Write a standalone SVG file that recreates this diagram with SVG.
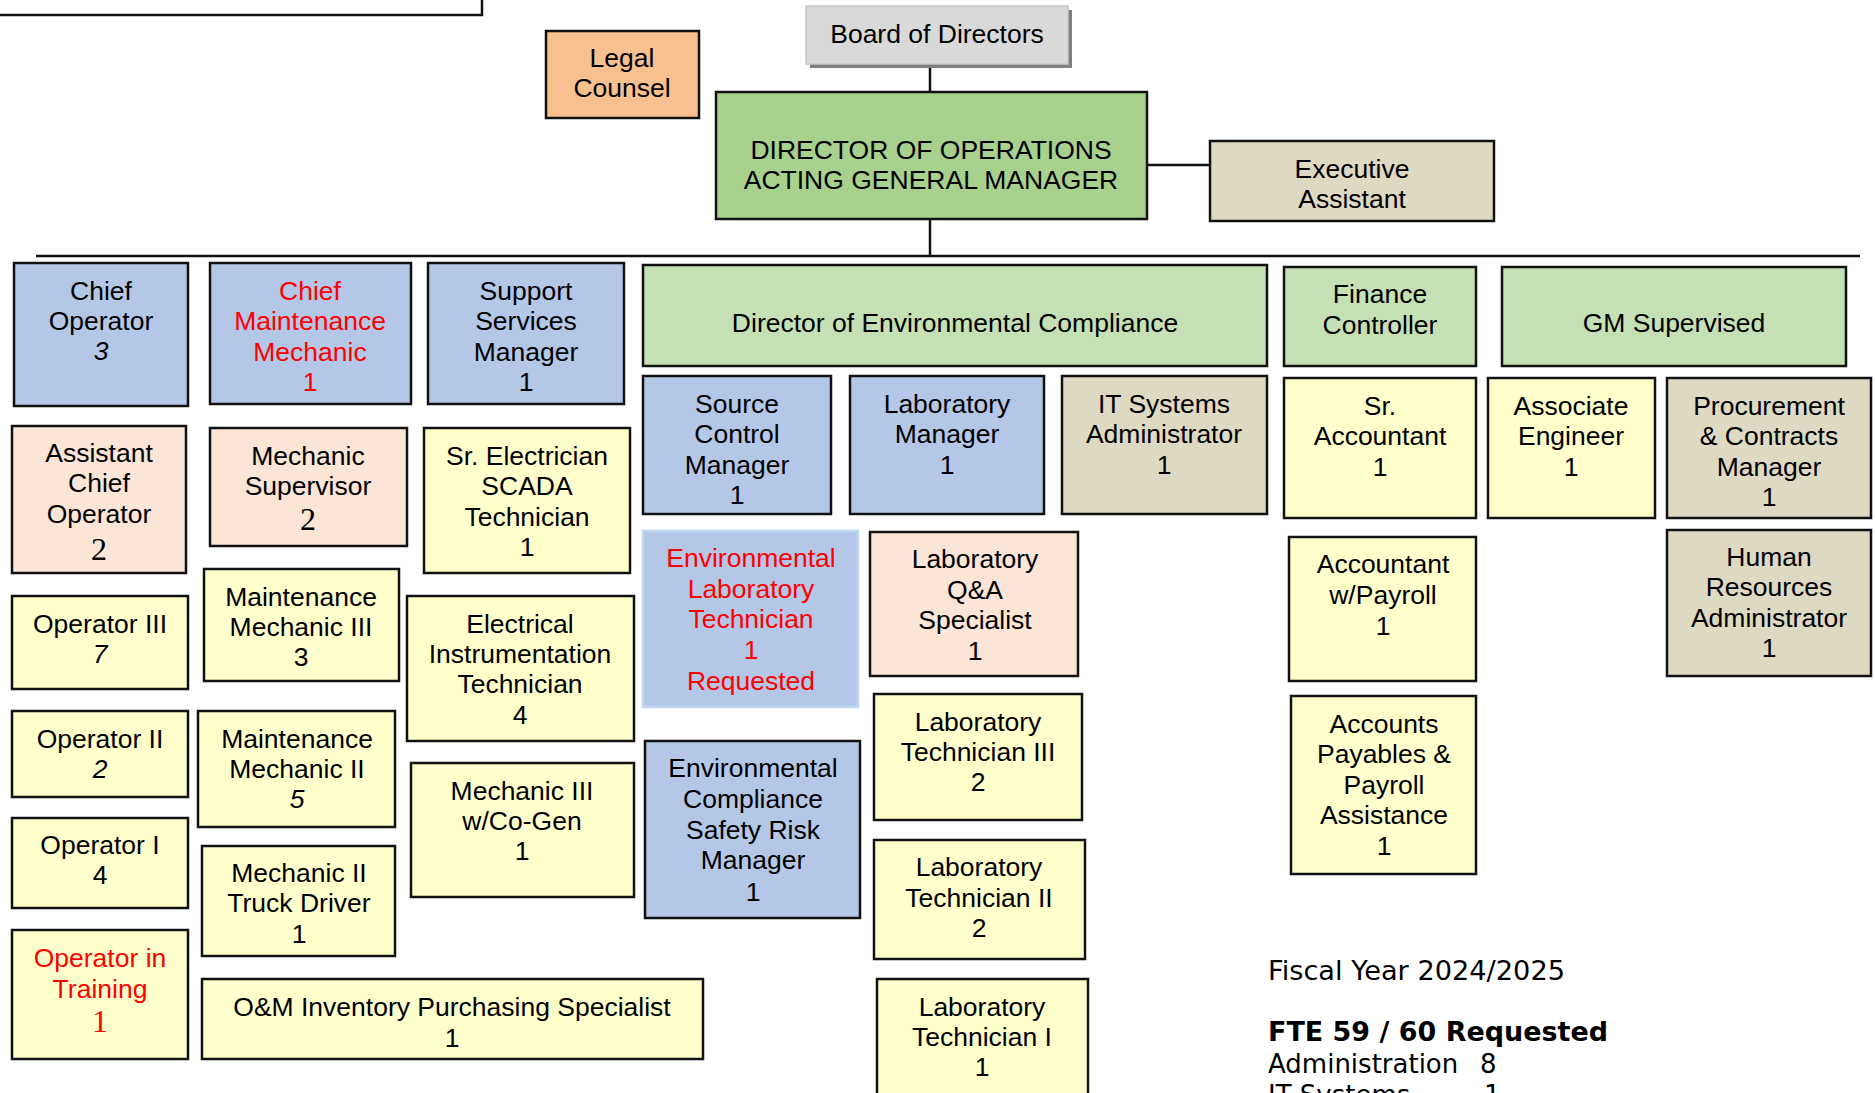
<svg xmlns="http://www.w3.org/2000/svg" width="1875" height="1093" viewBox="0 0 1875 1093">
<style>
.t{font-family:"Liberation Sans",Arial,sans-serif;font-size:26.5px;text-anchor:middle;fill:#000}
.r{fill:#ff0000}
.i{font-style:italic}
.s{font-family:"Liberation Serif","Times New Roman",serif;font-size:32px}
.bx{stroke:#111;stroke-width:2.5}
.blue{fill:#B4C7E7}
.peach{fill:#FBE5D6}
.yel{fill:#FFFFCC}
.tan{fill:#DDD9C3}
.lg{fill:#C5E0B4}
.dg{fill:#A9D18E}
.legal{fill:#F9C08F}
.ln{stroke:#111;stroke-width:2.5;fill:none}
.note{font-family:"DejaVu Sans",Verdana,sans-serif;font-size:26px;fill:#000}
</style>
<rect width="1875" height="1093" fill="#fff"/>
<path class="ln" d="M0,15 H482 V0"/>
<g id="connectors">
<line class="ln" x1="930" y1="65" x2="930" y2="92"/>
<line class="ln" x1="1147" y1="165" x2="1210" y2="165"/>
<line class="ln" x1="930" y1="219" x2="930" y2="256"/>
<line class="ln" x1="36" y1="256" x2="1860" y2="256"/>
</g>
<g id="legal"><rect class="bx legal" x="546" y="31" width="153" height="87"/><text class="t" x="622" y="67">Legal</text><text class="t" x="622" y="97">Counsel</text></g>
<g id="board"><rect x="810" y="10" width="262" height="58" fill="#7f7f7f"/><rect x="806" y="6" width="262" height="58" fill="#D9D9D9" stroke="#c8c8c8" stroke-width="1.5"/><text class="t" x="937" y="43">Board of Directors</text></g>
<g id="director-ops"><rect class="bx dg" x="716" y="92" width="431" height="127"/><text class="t" x="931" y="159">DIRECTOR OF OPERATIONS</text><text class="t" x="931" y="189">ACTING GENERAL MANAGER</text></g>
<g id="exec-assistant"><rect class="bx tan" x="1210" y="141" width="284" height="80"/><text class="t" x="1352" y="178">Executive</text><text class="t" x="1352" y="208">Assistant</text></g>
<g id="chief-operator"><rect class="bx blue" x="14" y="263" width="174" height="143"/><text class="t" x="101" y="300">Chief</text><text class="t" x="101" y="330">Operator</text><text class="t i" x="101" y="360">3</text></g>
<g id="chief-maint"><rect class="bx blue" x="210" y="263" width="201" height="141"/><text class="t r" x="310" y="300">Chief</text><text class="t r" x="310" y="330">Maintenance</text><text class="t r" x="310" y="361">Mechanic</text><text class="t r" x="310" y="391">1</text></g>
<g id="support-services"><rect class="bx blue" x="428" y="263" width="196" height="141"/><text class="t" x="526" y="300">Support</text><text class="t" x="526" y="330">Services</text><text class="t" x="526" y="361">Manager</text><text class="t" x="526" y="391">1</text></g>
<g id="director-env"><rect class="bx lg" x="643" y="265" width="624" height="101"/><text class="t" x="955" y="332">Director of Environmental Compliance</text></g>
<g id="finance-controller"><rect class="bx lg" x="1284" y="267" width="192" height="99"/><text class="t" x="1380" y="303">Finance</text><text class="t" x="1380" y="334">Controller</text></g>
<g id="gm-supervised"><rect class="bx lg" x="1502" y="267" width="344" height="99"/><text class="t" x="1674" y="332">GM Supervised</text></g>
<g id="asst-chief-op"><rect class="bx peach" x="12" y="426" width="174" height="147"/><text class="t" x="99" y="462">Assistant</text><text class="t" x="99" y="492">Chief</text><text class="t" x="99" y="523">Operator</text><text class="t s" x="99" y="560">2</text></g>
<g id="mech-supervisor"><rect class="bx peach" x="210" y="428" width="197" height="118"/><text class="t" x="308" y="465">Mechanic</text><text class="t" x="308" y="495">Supervisor</text><text class="t s" x="308" y="530">2</text></g>
<g id="sr-electrician"><rect class="bx yel" x="424" y="428" width="206" height="145"/><text class="t" x="527" y="465">Sr. Electrician</text><text class="t" x="527" y="495">SCADA</text><text class="t" x="527" y="526">Technician</text><text class="t" x="527" y="556">1</text></g>
<g id="source-control"><rect class="bx blue" x="643" y="376" width="188" height="138"/><text class="t" x="737" y="413">Source</text><text class="t" x="737" y="443">Control</text><text class="t" x="737" y="474">Manager</text><text class="t" x="737" y="504">1</text></g>
<g id="lab-manager"><rect class="bx blue" x="850" y="376" width="194" height="138"/><text class="t" x="947" y="413">Laboratory</text><text class="t" x="947" y="443">Manager</text><text class="t" x="947" y="474">1</text></g>
<g id="it-admin"><rect class="bx tan" x="1062" y="376" width="205" height="138"/><text class="t" x="1164" y="413">IT Systems</text><text class="t" x="1164" y="443">Administrator</text><text class="t" x="1164" y="474">1</text></g>
<g id="sr-accountant"><rect class="bx yel" x="1284" y="378" width="192" height="140"/><text class="t" x="1380" y="415">Sr.</text><text class="t" x="1380" y="445">Accountant</text><text class="t" x="1380" y="476">1</text></g>
<g id="assoc-engineer"><rect class="bx yel" x="1488" y="378" width="167" height="140"/><text class="t" x="1571" y="415">Associate</text><text class="t" x="1571" y="445">Engineer</text><text class="t" x="1571" y="476">1</text></g>
<g id="procurement"><rect class="bx tan" x="1667" y="378" width="204" height="140"/><text class="t" x="1769" y="415">Procurement</text><text class="t" x="1769" y="445">&amp; Contracts</text><text class="t" x="1769" y="476">Manager</text><text class="t" x="1769" y="506">1</text></g>
<g id="operator-iii"><rect class="bx yel" x="12" y="596" width="176" height="93"/><text class="t" x="100" y="633">Operator III</text><text class="t i" x="100" y="663">7</text></g>
<g id="maint-mech-iii"><rect class="bx yel" x="204" y="569" width="195" height="112"/><text class="t" x="301" y="606">Maintenance</text><text class="t" x="301" y="636">Mechanic III</text><text class="t" x="301" y="666">3</text></g>
<g id="elec-instr"><rect class="bx yel" x="407" y="596" width="227" height="145"/><text class="t" x="520" y="633">Electrical</text><text class="t" x="520" y="663">Instrumentation</text><text class="t" x="520" y="693">Technician</text><text class="t" x="520" y="724">4</text></g>
<g id="env-lab-tech"><rect class="blue" x="643" y="531" width="215" height="176" stroke="#BDD7EE" stroke-width="2.5"/><text class="t r" x="751" y="567">Environmental</text><text class="t r" x="751" y="598">Laboratory</text><text class="t r" x="751" y="628">Technician</text><text class="t r" x="751" y="659">1</text><text class="t r" x="751" y="690">Requested</text></g>
<g id="lab-qa"><rect class="bx peach" x="870" y="532" width="208" height="144"/><text class="t" x="975" y="568">Laboratory</text><text class="t" x="975" y="599">Q&amp;A</text><text class="t" x="975" y="629">Specialist</text><text class="t" x="975" y="660">1</text></g>
<g id="acct-payroll"><rect class="bx yel" x="1289" y="537" width="187" height="144"/><text class="t" x="1383" y="573">Accountant</text><text class="t" x="1383" y="604">w/Payroll</text><text class="t" x="1383" y="635">1</text></g>
<g id="hr-admin"><rect class="bx tan" x="1667" y="530" width="204" height="146"/><text class="t" x="1769" y="566">Human</text><text class="t" x="1769" y="596">Resources</text><text class="t" x="1769" y="627">Administrator</text><text class="t" x="1769" y="657">1</text></g>
<g id="operator-ii"><rect class="bx yel" x="12" y="711" width="176" height="86"/><text class="t" x="100" y="748">Operator II</text><text class="t i" x="100" y="778">2</text></g>
<g id="maint-mech-ii"><rect class="bx yel" x="198" y="711" width="197" height="116"/><text class="t" x="297" y="748">Maintenance</text><text class="t" x="297" y="778">Mechanic II</text><text class="t i" x="297" y="808">5</text></g>
<g id="lab-tech-iii"><rect class="bx yel" x="874" y="694" width="208" height="126"/><text class="t" x="978" y="731">Laboratory</text><text class="t" x="978" y="761">Technician III</text><text class="t" x="978" y="791">2</text></g>
<g id="mech-iii-cogen"><rect class="bx yel" x="411" y="763" width="223" height="134"/><text class="t" x="522" y="800">Mechanic III</text><text class="t" x="522" y="830">w/Co-Gen</text><text class="t" x="522" y="860">1</text></g>
<g id="env-safety"><rect class="bx blue" x="645" y="741" width="215" height="177"/><text class="t" x="753" y="777">Environmental</text><text class="t" x="753" y="808">Compliance</text><text class="t" x="753" y="839">Safety Risk</text><text class="t" x="753" y="869">Manager</text><text class="t" x="753" y="901">1</text></g>
<g id="ap-payroll"><rect class="bx yel" x="1291" y="696" width="185" height="178"/><text class="t" x="1384" y="733">Accounts</text><text class="t" x="1384" y="763">Payables &amp;</text><text class="t" x="1384" y="794">Payroll</text><text class="t" x="1384" y="824">Assistance</text><text class="t" x="1384" y="855">1</text></g>
<g id="operator-i"><rect class="bx yel" x="12" y="818" width="176" height="90"/><text class="t" x="100" y="854">Operator I</text><text class="t" x="100" y="884">4</text></g>
<g id="mech-ii-truck"><rect class="bx yel" x="202" y="846" width="193" height="110"/><text class="t" x="299" y="882">Mechanic II</text><text class="t" x="299" y="912">Truck Driver</text><text class="t" x="299" y="943">1</text></g>
<g id="lab-tech-ii"><rect class="bx yel" x="874" y="840" width="211" height="119"/><text class="t" x="979" y="876">Laboratory</text><text class="t" x="979" y="907">Technician II</text><text class="t" x="979" y="937">2</text></g>
<g id="operator-training"><rect class="bx yel" x="12" y="930" width="176" height="129"/><text class="t r" x="100" y="967">Operator in</text><text class="t r" x="100" y="998">Training</text><text class="t s r" x="100" y="1032">1</text></g>
<g id="om-inventory"><rect class="bx yel" x="202" y="979" width="501" height="80"/><text class="t" x="452" y="1016">O&amp;M Inventory Purchasing Specialist</text><text class="t" x="452" y="1047">1</text></g>
<g id="lab-tech-i"><rect class="bx yel" x="877" y="979" width="211" height="130"/><text class="t" x="982" y="1016">Laboratory</text><text class="t" x="982" y="1046">Technician I</text><text class="t" x="982" y="1076">1</text></g>
<g id="notes">
<text class="note" x="1268" y="980" textLength="297" lengthAdjust="spacingAndGlyphs">Fiscal Year 2024/2025</text>
<text class="note" x="1268" y="1041" font-weight="bold" textLength="340" lengthAdjust="spacingAndGlyphs">FTE 59 / 60 Requested</text>
<text class="note" x="1268" y="1073">Administration<tspan x="1480">8</tspan></text>
<text class="note" x="1268" y="1104">IT Systems<tspan x="1484">1</tspan></text>
</g>
</svg>
